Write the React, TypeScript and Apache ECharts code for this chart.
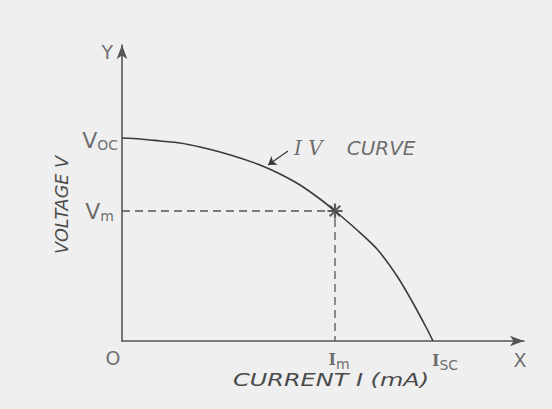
import React, { useEffect, useRef } from "react";
import * as echarts from "echarts";

// Curve points (current, voltage) in arbitrary units
const curveCurrent = [0, 18, 38, 58, 78, 98, 118, 138, 158, 178, 198, 213, 235, 255, 275, 291, 305, 311];
const curveVoltage = [203, 202, 200, 198, 194, 189, 183, 176, 167, 156, 142, 130, 111, 92, 65, 38, 12, 0];

const Voc = 203;
const Vm = 130;
const Im = 213;
const Isc = 311;
const xMax = 402;
const yMax = 296;

const tickNames = ["Voc", "Vm", "O", "Im", "Isc", "X", "Y"];
const tickTexts = ["{v|V}{s|OC}", "{v|V}{s|m}", "{o|O}", "{i|I}{s|m}", "{i|I}{s|SC}", "{o|X}", "{o|Y}"];
const tickX = [0, 0, 0, Im, Isc, xMax, 0];
const tickY = [Voc, Vm, 0, 0, 0, 0, yMax];

export default function App() {
  const ref = useRef<HTMLDivElement>(null);
  useEffect(() => {
    document.body.style.margin = "0";
    const chart = echarts.init(ref.current!, undefined, { renderer: "svg" });
    const curveData = curveCurrent.map((c, i) => [c, curveVoltage[i]]);
    const positions: any[] = ["left", "left", "bottom", "bottom", "bottom", "bottom", "left"];
    const offsets: any[] = [[0, 2], [-4, 0], [-9, 3], [4, 3], [12, 4], [-4, 5], [-5, 7]];
    const labelData = tickNames.map((n, i) => ({
      name: n,
      value: [tickX[i], tickY[i]],
      label: {
        show: true,
        position: positions[i],
        offset: offsets[i],
        distance: 4,
        formatter: tickTexts[i],
      },
    }));
    const line = "#3a3a3a";
    const txt = "#4a4a4a";
    chart.setOption({
      animation: false,
      backgroundColor: "#efefef",
      grid: { left: 122, top: 45, right: 28, bottom: 68 },
      xAxis: {
        type: "value",
        min: 0,
        max: xMax,
        axisLine: { show: true, lineStyle: { color: "#555", width: 1.6 }, symbol: ["none", "arrow"], symbolSize: [8, 14] },
        axisTick: { show: false },
        axisLabel: { show: false },
        splitLine: { show: false },
      },
      yAxis: {
        type: "value",
        min: 0,
        max: yMax,
        axisLine: { show: true, lineStyle: { color: "#555", width: 1.6 }, symbol: ["none", "arrow"], symbolSize: [8, 14] },
        axisTick: { show: false },
        axisLabel: { show: false },
        splitLine: { show: false },
      },
      series: [
        {
          type: "line",
          data: curveData,
          smooth: 0.25,
          showSymbol: false,
          lineStyle: { color: line, width: 1.6 },
          markLine: {
            silent: true,
            symbolSize: 8,
            label: { show: false },
            lineStyle: { color: line, width: 1.3, type: "solid" },
            data: [[{ coord: [166, 190], symbol: "none" }, { coord: [146, 176], symbol: "arrow" }]],
          },
        },
        {
          type: "line",
          data: [[0, Vm], [Im, Vm], [Im, 0]],
          showSymbol: false,
          lineStyle: { color: "#555", width: 1.3, type: [8, 5] },
        },
        {
          type: "scatter",
          data: [[Im, Vm]],
          symbol: "path://M0,-10L0,10M-10,0L10,0M-7,-7L7,7M-7,7L7,-7",
          symbolSize: 15,
          itemStyle: { color: "none", borderColor: line, borderWidth: 2.2 },
        },
        {
          type: "scatter",
          data: labelData,
          symbolSize: 0,
          itemStyle: { color: "transparent" },
          label: {
            color: txt,
            rich: {
              v: { fontFamily: "DejaVu Sans", fontSize: 22, color: txt },
              o: { fontFamily: "DejaVu Sans", fontSize: 19, color: txt },
              i: { fontFamily: "DejaVu Serif", fontWeight: "bold", fontSize: 16, color: txt },
              s: { fontFamily: "DejaVu Sans", fontSize: 14, color: txt, padding: [9, 0, 0, 0] },
            },
          },
        },
        {
          type: "scatter",
          data: [{ name: "IV CURVE", value: [170, 193] }],
          symbolSize: 0,
          itemStyle: { color: "transparent" },
          label: {
            show: true,
            position: "right",
            distance: 2,
            formatter: "{a|I V}{b|CURVE}",
            rich: {
              a: { fontFamily: "DejaVu Serif", fontStyle: "italic", fontSize: 20, color: txt },
              b: { fontFamily: "DejaVu Sans", fontStyle: "italic", fontSize: 20, color: txt, padding: [0, 0, 0, 24] },
            },
          },
        },
      ],
      graphic: [
        {
          type: "text",
          x: 331,
          y: 380,
          scaleX: 1.41,
          style: {
            text: "CURRENT I (mA)",
            font: "italic 17px 'DejaVu Sans'",
            fill: txt,
            align: "center",
            verticalAlign: "middle",
          },
        },
        {
          type: "text",
          x: 61,
          y: 205,
          rotation: Math.PI / 2,
          scaleX: 0.98,
          style: {
            text: "VOLTAGE V",
            font: "italic 18px 'DejaVu Sans'",
            fill: txt,
            align: "center",
            verticalAlign: "middle",
          },
        },
      ],
    });
    return () => chart.dispose();
  }, []);
  return <div ref={ref} style={{ width: 552, height: 409 }} />;
}
